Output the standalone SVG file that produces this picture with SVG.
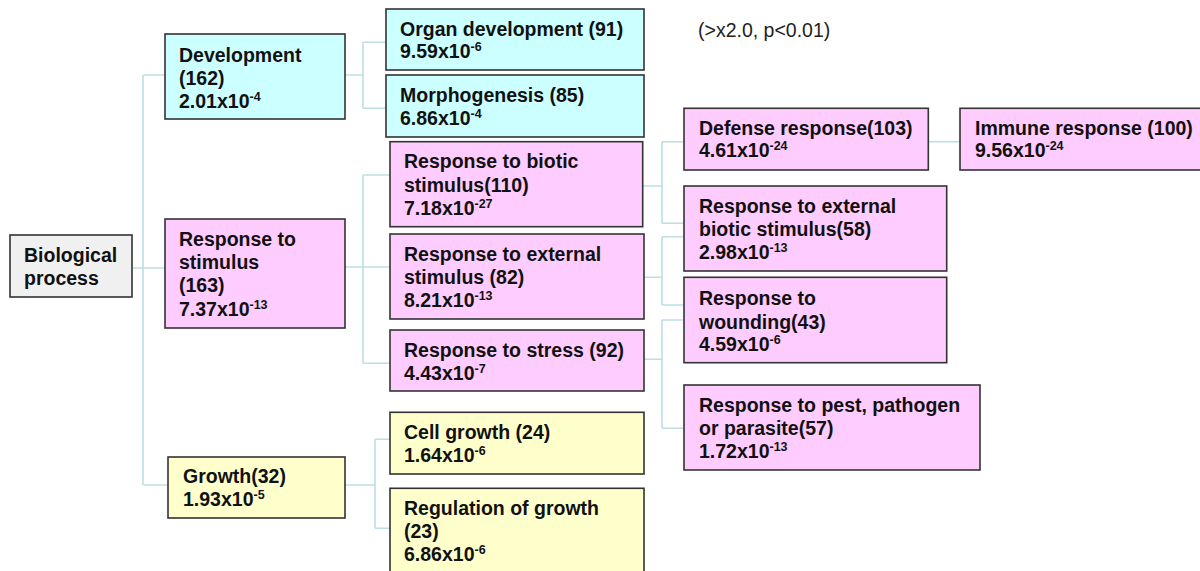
<svg xmlns="http://www.w3.org/2000/svg" width="1200" height="571" viewBox="0 0 1200 571">
<style>
.box{stroke:#333;stroke-width:1.6}
.grey{fill:#f0f0f0}
.cyan{fill:#ccffff}
.pink{fill:#ffccff}
.yellow{fill:#ffffcc}
.t{font-family:"Liberation Sans",Arial,sans-serif;font-weight:bold;font-size:19.5px;fill:#111}
.note{font-family:"Liberation Sans",Arial,sans-serif;font-size:19.5px;fill:#222}
.sup{font-size:12.5px}
.conn{fill:none;stroke:#bddfe3;stroke-width:1.6}
</style>
<rect width="1200" height="571" fill="#fff"/>
<g id="connectors" class="conn">
<path d="M132,268H165M143,75V485M143,75H165M143,485H168"/>
<path d="M345,75H363M363,42.3V108.3M363,42.3H386M363,108.3H386"/>
<path d="M345,267H363M363,175V363.3M363,175H390M363,267H390M363,363.3H390"/>
<path d="M345,485H375M375,439.3V528.3M375,439.3H390M375,528.3H390"/>
<path d="M642.7,186H662M662,141.7V223.3M662,141.7H684M662,223.3H684"/>
<path d="M644,277.3H662M662,236.7V305M662,236.7H684M662,305H684"/>
<path d="M644,359.3H662M662,320V428.3M662,320H684M662,428.3H684"/>
<path d="M928.3,141.7H960"/>
</g>
<g id="note"><text class="note" x="698" y="36.5">(&gt;x2.0, p&lt;0.01)</text></g>
<g id="biological-process">
<rect class="box grey" x="10" y="235" width="122" height="62"/>
<text class="t"><tspan x="24" y="262">Biological</tspan><tspan x="24" y="285">process</tspan></text>
</g>
<g id="development">
<rect class="box cyan" x="165" y="34" width="180" height="85"/>
<text class="t"><tspan x="179" y="61.5">Development</tspan><tspan x="179" y="85">(162)</tspan><tspan x="179" y="108.3">2.01x10<tspan class="sup" dy="-7">-4</tspan></tspan></text>
</g>
<g id="organ-development">
<rect class="box cyan" x="386" y="9" width="258" height="61"/>
<text class="t"><tspan x="400" y="35.7">Organ development (91)</tspan><tspan x="400" y="58.3">9.59x10<tspan class="sup" dy="-7">-6</tspan></tspan></text>
</g>
<g id="morphogenesis">
<rect class="box cyan" x="386" y="75" width="258" height="62"/>
<text class="t"><tspan x="400" y="101.7">Morphogenesis (85)</tspan><tspan x="400" y="125">6.86x10<tspan class="sup" dy="-7">-4</tspan></tspan></text>
</g>
<g id="response-to-stimulus">
<rect class="box pink" x="165" y="219" width="180" height="109"/>
<text class="t"><tspan x="179" y="245.5">Response to</tspan><tspan x="179" y="268.8">stimulus</tspan><tspan x="179" y="292.2">(163)</tspan><tspan x="179" y="315.5">7.37x10<tspan class="sup" dy="-7">-13</tspan></tspan></text>
</g>
<g id="growth">
<rect class="box yellow" x="168" y="457" width="177" height="61"/>
<text class="t"><tspan x="183" y="483.3">Growth(32)</tspan><tspan x="183" y="506">1.93x10<tspan class="sup" dy="-7">-5</tspan></tspan></text>
</g>
<g id="response-to-biotic-stimulus">
<rect class="box pink" x="390" y="141.7" width="252.7" height="85"/>
<text class="t"><tspan x="404" y="168.3">Response to biotic</tspan><tspan x="404" y="191.8">stimulus(110)</tspan><tspan x="404" y="215">7.18x10<tspan class="sup" dy="-7">-27</tspan></tspan></text>
</g>
<g id="response-to-external-stimulus">
<rect class="box pink" x="390" y="234" width="254" height="85"/>
<text class="t"><tspan x="404" y="260.7">Response to external</tspan><tspan x="404" y="284">stimulus (82)</tspan><tspan x="404" y="307.3">8.21x10<tspan class="sup" dy="-7">-13</tspan></tspan></text>
</g>
<g id="response-to-stress">
<rect class="box pink" x="390" y="330" width="254" height="61"/>
<text class="t"><tspan x="404" y="356.7">Response to stress (92)</tspan><tspan x="404" y="380">4.43x10<tspan class="sup" dy="-7">-7</tspan></tspan></text>
</g>
<g id="cell-growth">
<rect class="box yellow" x="390" y="412.3" width="254" height="61.7"/>
<text class="t"><tspan x="404" y="439">Cell growth (24)</tspan><tspan x="404" y="462">1.64x10<tspan class="sup" dy="-7">-6</tspan></tspan></text>
</g>
<g id="regulation-of-growth">
<rect class="box yellow" x="390" y="488.3" width="254" height="95"/>
<text class="t"><tspan x="404" y="515">Regulation of growth</tspan><tspan x="404" y="538.3">(23)</tspan><tspan x="404" y="561">6.86x10<tspan class="sup" dy="-7">-6</tspan></tspan></text>
</g>
<g id="defense-response">
<rect class="box pink" x="684" y="108.3" width="244.3" height="61.7"/>
<text class="t"><tspan x="699" y="135">Defense response(103)</tspan><tspan x="699" y="157">4.61x10<tspan class="sup" dy="-7">-24</tspan></tspan></text>
</g>
<g id="immune-response">
<rect class="box pink" x="960" y="108.3" width="250" height="61.7"/>
<text class="t"><tspan x="975" y="135">Immune response (100)</tspan><tspan x="975" y="157">9.56x10<tspan class="sup" dy="-7">-24</tspan></tspan></text>
</g>
<g id="response-to-external-biotic-stimulus">
<rect class="box pink" x="684" y="186" width="262.7" height="85"/>
<text class="t"><tspan x="699" y="212.7">Response to external</tspan><tspan x="699" y="236">biotic stimulus(58)</tspan><tspan x="699" y="258.5">2.98x10<tspan class="sup" dy="-7">-13</tspan></tspan></text>
</g>
<g id="response-to-wounding">
<rect class="box pink" x="684" y="277.3" width="262.7" height="85.4"/>
<text class="t"><tspan x="699" y="305">Response to</tspan><tspan x="699" y="328.5">wounding(43)</tspan><tspan x="699" y="350.7">4.59x10<tspan class="sup" dy="-7">-6</tspan></tspan></text>
</g>
<g id="response-to-pest-pathogen-or-parasite">
<rect class="box pink" x="684" y="385" width="296" height="85"/>
<text class="t"><tspan x="699" y="411.7">Response to pest, pathogen</tspan><tspan x="699" y="435">or parasite(57)</tspan><tspan x="699" y="458.3">1.72x10<tspan class="sup" dy="-7">-13</tspan></tspan></text>
</g>
</svg>
